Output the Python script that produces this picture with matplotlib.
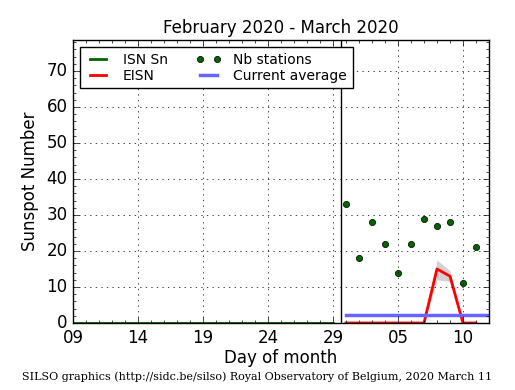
import matplotlib
matplotlib.use("Agg")
import matplotlib.pyplot as plt
import matplotlib.dates as mdates
import numpy as np

# ISN Sn (Feb 9 - Feb 29)
isn_days = np.arange(np.datetime64("2020-02-09"), np.datetime64("2020-03-01"))
isn_values = np.zeros(len(isn_days))

# EISN and station counts (Mar 1 - Mar 11)
eisn_days = np.arange(np.datetime64("2020-03-01"), np.datetime64("2020-03-12"))
eisn_values = [0, 0, 0, 0, 0, 0, 0, 15, 13, 0, 0]
eisn_low = [0, 0, 0, 0, 0, 0, 0, 12, 11.5, 0, 0]
eisn_high = [0, 0, 0, 0, 0, 0, 0, 17.5, 14.5, 0, 0]
nb_stations = [33, 18, 28, 22, 14, 22, 29, 27, 28, 11, 21]

current_average = 2.2
avg_start = np.datetime64("2020-03-01")
month_split = np.datetime64("2020-02-29T14")

x_start = np.datetime64("2020-02-09")
x_end = np.datetime64("2020-03-12")
tick_days = [np.datetime64(d) for d in
             ["2020-02-09", "2020-02-14", "2020-02-19", "2020-02-24",
              "2020-02-29", "2020-03-05", "2020-03-10"]]
y_ticks = [0, 10, 20, 30, 40, 50, 60, 70]

plt.style.use("classic")
fig = plt.figure(figsize=(5.15, 3.9), dpi=100, facecolor="white")
ax = fig.add_axes([0.1417, 0.1718, 0.8078, 0.7256])

ax.plot(isn_days, isn_values, color="darkgreen", linewidth=2, label="ISN Sn")
ax.fill_between(eisn_days, eisn_low, eisn_high, color="gray", alpha=0.35,
                linewidth=0)
ax.plot(eisn_days, eisn_values, color="red", linewidth=2, label="EISN")
ax.plot(eisn_days, nb_stations, "o", color="darkgreen", markersize=4.5,
        markeredgecolor="black", markeredgewidth=0.5, label="Nb stations")
ax.plot([avg_start, x_end], [current_average, current_average],
        color="#6666ff", linewidth=2.5, label="Current average")
ax.axvline(month_split, color="black", linewidth=1)

ax.set_xlim(x_start, x_end)
ax.set_ylim(0, 78.6)
ax.set_xticks(tick_days)
ax.xaxis.set_major_formatter(mdates.DateFormatter("%d"))
ax.xaxis.set_minor_locator(mdates.DayLocator())
ax.set_yticks(y_ticks)
ax.yaxis.set_minor_locator(plt.MultipleLocator(2))
ax.tick_params(labelsize=12)
ax.grid(True, which="major", linestyle=":", color="black")

ax.set_xlabel("Day of month", fontsize=12, labelpad=2)
ax.set_ylabel("Sunspot Number", fontsize=12)
ax.set_title("February 2020 - March 2020", fontsize=12)
ax.legend(loc="upper left", ncol=2, fontsize=10, numpoints=2,
          handlelength=1.8, handletextpad=0.9, columnspacing=2.0,
          labelspacing=0.15, borderpad=0.4, borderaxespad=0.5)

fig.text(0.042, 0.025,
         "SILSO graphics (http://sidc.be/silso) Royal Observatory of Belgium, 2020 March 11",
         family="DejaVu Serif", fontsize=8)

fig.savefig("out.png", dpi=100, facecolor="white")
